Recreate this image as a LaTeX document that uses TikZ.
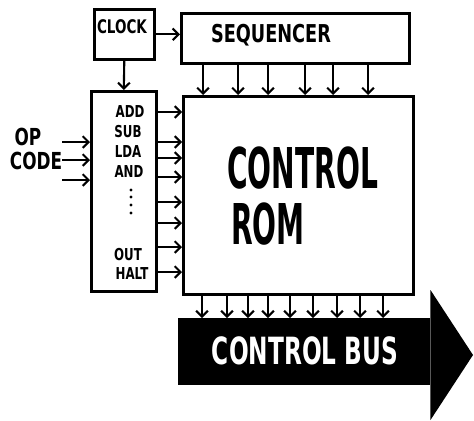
\documentclass[tikz,border=0pt]{standalone}
\usepackage{fontspec}
\usetikzlibrary{arrows.meta}
\newfontfamily\sketchfont[FakeStretch=0.72]{DejaVu Sans}
\newfontfamily\romfont[FakeStretch=0.5]{DejaVu Sans}
\newfontfamily\busfont[FakeStretch=0.62]{DejaVu Sans}
\tikzset{
  box/.style={draw, line width=2.2pt, inner sep=0pt},
  arr/.style={->, line width=1.8pt},
  lbl/.style={font=\sketchfont\bfseries\fontsize{14}{14}\selectfont, inner sep=0pt},
  romlbl/.style={font=\romfont\bfseries\fontsize{48}{48}\selectfont, inner sep=0pt, anchor=west}
}
\begin{document}
\begin{tikzpicture}[x=0.03cm, y=-0.03cm, >={Straight Barb[length=5pt,width=10pt]}]
  \useasboundingbox (0,0) rectangle (474,421);

  % Boxes
  \node[box, minimum width=1.8cm, minimum height=1.5cm, anchor=north west] (clock) at (93,8) {};
  \node[box, minimum width=6.84cm, minimum height=1.5cm, anchor=north west] (seq) at (180,12) {};
  \node[box, minimum width=1.95cm, minimum height=6cm, anchor=north west] (dec) at (90,90) {};
  \node[box, minimum width=6.9cm, minimum height=5.94cm, anchor=north west] (rom) at (182,95) {};
  \node[fill=black, inner sep=0pt, minimum width=7.56cm, minimum height=2.01cm, anchor=north west] (bus) at (178,318) {};
  \fill (bus.east |- 0,290) -- (473,355) -- (bus.east |- 0,420) -- cycle;

  % Labels
  \node[lbl, font=\sketchfont\bfseries\fontsize{16}{16}\selectfont] (clocktxt) at (122,27) {CLOCK};
  \node[lbl, font=\sketchfont\bfseries\fontsize{21}{21}\selectfont] (seqtxt) at (271,35) {SEQUENCER};
  \node[lbl, font=\sketchfont\bfseries\fontsize{20}{20}\selectfont] (op) at (28,137) {OP};
  \node[lbl, font=\sketchfont\bfseries\fontsize{20}{20}\selectfont] (code) at (36,161) {CODE};
  \node[lbl] (add) at (130,112) {ADD};
  \node[lbl] (sub) at (128,132) {SUB};
  \node[lbl] (lda) at (128,152) {LDA};
  \node[lbl] (and) at (129,172) {AND};
  \foreach \y in {190,197,205,213}
    \fill (131,\y) circle (1.3pt);
  \node[lbl] (out) at (128,255) {OUT};
  \node[lbl] (halt) at (132,274) {HALT};
  \node[romlbl] (romtop) at (227,168) {CONTROL};
  \node[romlbl] (rombot) at (231,224) {ROM};
  \node[inner sep=0pt, text=white, font=\busfont\bfseries\fontsize{32}{32}\selectfont] (bustxt) at (305,351) {CONTROL BUS};

  % Clock lines
  \draw[arr] (clock.east) -- (clock.east -| seq.west);
  \draw[arr] (clock.south) -- (dec.north);

  % Op code in
  \foreach \y in {142,160,180} {
    \coordinate (in\y) at (62,\y);
    \draw[arr] (in\y) -- (dec.west |- in\y);
  }

  % Decoder to ROM
  \foreach \y in {112,142,158,177,202,223,247,272}
    \draw[arr] (dec.east |- 0,\y) -- (rom.west |- 0,\y);

  % Sequencer to ROM
  \foreach \x in {203,238,268,305,333,368}
    \draw[arr] (seq.south -| \x,0) -- (rom.north -| \x,0);

  % ROM to bus
  \foreach \x in {202,227,248,268,290,313,337,360,383}
    \draw[arr] (rom.south -| \x,0) -- (bus.north -| \x,0);
\end{tikzpicture}
\end{document}
